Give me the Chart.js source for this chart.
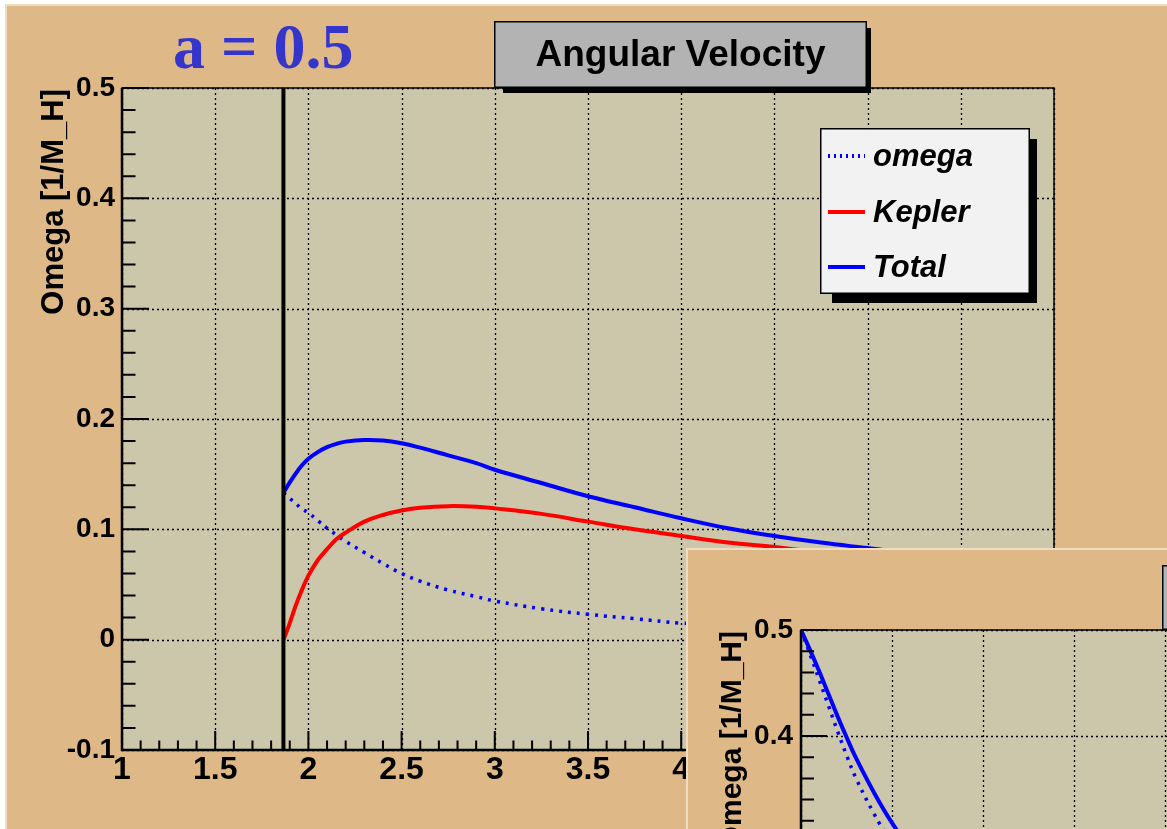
<!DOCTYPE html>
<html>
<head>
<meta charset="utf-8">
<script src="https://cdn.jsdelivr.net/npm/chart.js@4/dist/chart.umd.min.js"></script>
<style>
  html, body { margin: 0; padding: 0; background: #ffffff; width: 1167px; height: 829px; overflow: hidden; }
  body { position: relative; }
  #main  { position: absolute; left: 5px;   top: 4px; }
  #inset { position: absolute; left: 686px; top: 548px; }
</style>
</head>
<body>
<canvas id="main" width="1162" height="825"></canvas>
<canvas id="inset" width="1140" height="800"></canvas>
<script>
// ---- spin a = 0.5 : radius r [M_H] and angular velocities [1/M_H] ----
const radius = [1.866, 1.88, 1.9, 1.93, 1.96, 2.0, 2.05, 2.1, 2.15, 2.2, 2.3, 2.4, 2.5, 2.6, 2.75, 2.9,
                3.0, 3.25, 3.5, 3.75, 4.0, 4.25, 4.5, 4.75, 5.0, 5.25, 5.5, 5.75, 6.0];
const omegaDrag = [0.133, 0.131, 0.128, 0.124, 0.119, 0.115, 0.108, 0.101, 0.095, 0.089, 0.079, 0.069, 0.060, 0.053, 0.045, 0.039,
                   0.035, 0.028, 0.023, 0.019, 0.015, 0.013, 0.011, 0.0095, 0.008, 0.007, 0.006, 0.0053, 0.0047];
const omegaKepler = [0.000, 0.006, 0.015, 0.030, 0.043, 0.058, 0.072, 0.082, 0.091, 0.097, 0.107, 0.113, 0.117, 0.1195, 0.121, 0.1205,
                     0.119, 0.114, 0.107, 0.100, 0.094, 0.088, 0.084, 0.079, 0.075, 0.071, 0.068, 0.065, 0.062];
const omegaTotal = [0.133, 0.137, 0.1425, 0.150, 0.157, 0.164, 0.170, 0.1745, 0.1775, 0.1795, 0.181, 0.1805, 0.178, 0.174, 0.167, 0.160,
                    0.154, 0.142, 0.130, 0.120, 0.110, 0.101, 0.094, 0.088, 0.083, 0.078, 0.074, 0.070, 0.066];
// event horizon marker
const horizonR = [1.866, 1.866];
const horizonOmega = [-0.1, 0.5];

// ---- second panel ----
const insetRadius = [1.0, 1.05, 1.1, 1.15, 1.2, 1.25, 1.3, 1.4, 1.5, 1.6];
const insetOmega  = [0.500, 0.477, 0.453, 0.429, 0.405, 0.382, 0.361, 0.327, 0.298, 0.273];
const insetTotal  = [0.500, 0.481, 0.461, 0.440, 0.419, 0.399, 0.380, 0.347, 0.318, 0.294];

// ---- axes ----
const xMin = 1, xMax = 6, xStep = 0.5, xMinorStep = 0.1;
const yMin = -0.1, yMax = 0.5, yStep = 0.1, yMinorStep = 0.02;
const yAxisTitle = 'Omega [1/M_H]';
const plotTitle = 'Angular Velocity';
const spinLabel = 'a = 0.5';
const legendLabels = ['omega', 'Kepler', 'Total'];

const SANS = '"Liberation Sans", Arial, Helvetica, sans-serif';
const SERIF = '"Liberation Serif", "Times New Roman", serif';
const BLUE = '#0000ff', RED = '#ff0000';

const pts = (xs, ys) => xs.map((x, i) => ({ x, y: ys[i] }));

function boxWithShadow(ctx, b, fill) {
  ctx.fillStyle = '#000';
  ctx.fillRect(b.x + b.sx, b.y + b.sy, b.w + b.ex - b.sx, b.h + b.ey - b.sy);
  ctx.fillStyle = fill;
  ctx.fillRect(b.x, b.y, b.w, b.h);
  ctx.strokeStyle = '#000';
  ctx.lineWidth = 1.5;
  ctx.setLineDash([]);
  ctx.strokeRect(b.x + 0.75, b.y + 0.75, b.w - 1.5, b.h - 1.5);
}

// ROOT-like canvas: tan pad, shaded frame, dotted grid, inward ticks, boxed title and legend
const rootStyle = {
  id: 'rootStyle',
  beforeDraw(chart, args, o) {
    const { ctx, width, height, chartArea: a } = chart;
    const xs = chart.scales.x, ys = chart.scales.y;
    ctx.save();
    ctx.fillStyle = '#dfb887';
    ctx.fillRect(0, 0, width, height);
    ctx.fillStyle = '#f0dcc0';
    ctx.fillRect(0, 0, width, 2);
    ctx.fillRect(0, 0, 2, height);
    ctx.fillStyle = '#ccc6aa';
    ctx.fillRect(a.left, a.top, a.right - a.left, a.bottom - a.top);
    // dotted grid at the major ticks
    ctx.strokeStyle = '#000';
    ctx.lineWidth = 1.3;
    ctx.setLineDash([2, 3]);
    ctx.beginPath();
    for (let v = xMin; v <= xMax + 1e-9; v += xStep) {
      const p = Math.round(xs.getPixelForValue(v)) + 0.5;
      ctx.moveTo(p, a.top); ctx.lineTo(p, a.bottom);
    }
    for (let i = 0; i <= Math.round((yMax - yMin) / yStep); i++) {
      const p = Math.round(ys.getPixelForValue(yMin + i * yStep)) + 0.5;
      ctx.moveTo(a.left, p); ctx.lineTo(a.right, p);
    }
    ctx.stroke();
    ctx.restore();
  },
  afterDatasetsDraw(chart, args, o) {
    const { ctx, chartArea: a } = chart;
    const xs = chart.scales.x, ys = chart.scales.y;
    ctx.save();
    ctx.setLineDash([]);
    ctx.strokeStyle = '#000';
    // frame
    ctx.lineWidth = 1.5;
    ctx.strokeRect(a.left, a.top, a.right - a.left, a.bottom - a.top);
    ctx.lineWidth = 2.5;
    ctx.beginPath();
    ctx.moveTo(a.left, a.top); ctx.lineTo(a.left, a.bottom); ctx.lineTo(a.right, a.bottom);
    ctx.stroke();
    // inward ticks
    ctx.lineWidth = 2;
    ctx.beginPath();
    const nx = Math.round((xMax - xMin) / xMinorStep);
    for (let i = 0; i <= nx; i++) {
      const p = xs.getPixelForValue(xMin + i * xMinorStep);
      const len = (i % 5 === 0) ? o.xMajorTick : o.xMajorTick / 2;
      ctx.moveTo(p, a.bottom); ctx.lineTo(p, a.bottom - len);
    }
    const ny = Math.round((yMax - yMin) / yMinorStep);
    for (let i = 0; i <= ny; i++) {
      const p = ys.getPixelForValue(yMin + i * yMinorStep);
      const len = (i % 5 === 0) ? o.yMajorTick : o.yMajorTick / 2;
      ctx.moveTo(a.left, p); ctx.lineTo(a.left + len, p);
    }
    ctx.stroke();

    // y-axis title, rotated, aligned to the top of the axis
    ctx.save();
    ctx.translate(o.yTitle.x, o.yTitle.y);
    ctx.rotate(-Math.PI / 2);
    ctx.fillStyle = '#000';
    ctx.font = 'bold ' + o.yTitle.size + 'px ' + SANS;
    ctx.textAlign = 'right';
    ctx.textBaseline = 'alphabetic';
    ctx.fillText(yAxisTitle, 0, 0);
    ctx.restore();

    // title box
    const t = o.titleBox;
    boxWithShadow(ctx, t, '#b3b3b3');
    ctx.fillStyle = '#000';
    ctx.font = 'bold ' + t.size + 'px ' + SANS;
    ctx.textAlign = 'center';
    ctx.textBaseline = 'alphabetic';
    ctx.fillText(plotTitle, t.x + t.w / 2, t.base);

    // spin label
    if (o.spin) {
      ctx.fillStyle = '#3535cc';
      ctx.font = 'bold 64px ' + SERIF;
      ctx.textAlign = 'left';
      ctx.fillText(spinLabel, o.spin.x, o.spin.y);
    }

    // legend
    if (o.legend) {
      const L = o.legend;
      boxWithShadow(ctx, L, '#f2f2f2');
      const styles = [
        { color: BLUE, dash: [2, 4] },
        { color: RED, dash: [] },
        { color: BLUE, dash: [] }
      ];
      ctx.font = 'italic bold 31px ' + SANS;
      ctx.textAlign = 'left';
      legendLabels.forEach((lab, i) => {
        const yy = L.rows[i];
        ctx.strokeStyle = styles[i].color;
        ctx.setLineDash(styles[i].dash);
        ctx.lineWidth = 4;
        ctx.lineCap = 'butt';
        ctx.beginPath();
        ctx.moveTo(L.x + 8, yy); ctx.lineTo(L.x + 45, yy);
        ctx.stroke();
        ctx.setLineDash([]);
        ctx.fillStyle = '#000';
        ctx.fillText(lab, L.x + 53, yy + 10);
      });
    }
    ctx.restore();
  }
};

function tickFmt(v) {
  const r = Math.round(v * 100) / 100;
  return Math.abs(r) < 1e-9 ? '0' : String(r);
}

function makeChart(canvasId, datasets, area, deco, yTickPad) {
  const cv = document.getElementById(canvasId);
  return new Chart(cv, {
    type: 'line',
    data: { datasets },
    plugins: [rootStyle],
    options: {
      responsive: false,
      animation: false,
      devicePixelRatio: 1,
      layout: { padding: { left: 0, top: area.top, right: cv.width - area.right, bottom: 0 } },
      elements: { point: { radius: 0 }, line: { tension: 0.4 } },
      plugins: {
        legend: { display: false },
        title: { display: false },
        tooltip: { enabled: false },
        rootStyle: deco
      },
      scales: {
        x: {
          type: 'linear', min: xMin, max: xMax,
          afterFit: s => { s.height = cv.height - area.bottom; },
          grid: { display: false, drawTicks: false },
          border: { display: false },
          ticks: {
            stepSize: xStep, autoSkip: false, maxRotation: 0, padding: 1, color: '#000',
            font: { family: SANS, size: 32, weight: 'bold' }, callback: tickFmt
          }
        },
        y: {
          type: 'linear', min: yMin, max: yMax,
          afterFit: s => { s.width = area.left; },
          grid: { display: false, drawTicks: false },
          border: { display: false },
          ticks: {
            stepSize: yStep, autoSkip: false, padding: yTickPad, color: '#000',
            font: { family: SANS, size: 28, weight: 'bold' }, callback: tickFmt
          }
        }
      }
    }
  });
}

// main panel
makeChart('main', [
  { label: 'horizon', data: pts(horizonR, horizonOmega), borderColor: '#000', borderWidth: 4, tension: 0 },
  { label: 'Total',  data: pts(radius, omegaTotal),  borderColor: BLUE, borderWidth: 4 },
  { label: 'Kepler', data: pts(radius, omegaKepler), borderColor: RED,  borderWidth: 4 },
  { label: 'omega',  data: pts(radius, omegaDrag),   borderColor: BLUE, borderWidth: 3.5, borderDash: [3, 6], borderCapStyle: 'butt' }
], { left: 117, top: 84, right: 1049, bottom: 746 }, {
  xMajorTick: 19, yMajorTick: 27,
  yTitle: { x: 58, y: 85, size: 31 },
  titleBox: { x: 489, y: 17, w: 373, h: 67, sx: 9, sy: 7, ex: 4, ey: 5, size: 37, base: 62 },
  spin: { x: 168, y: 64 },
  legend: { x: 815, y: 124, w: 210, h: 166, sx: 12, sy: 11, ex: 7, ey: 9, rows: [152, 208, 263] }
}, 7);

// second panel
makeChart('inset', [
  { label: 'Total', data: pts(insetRadius, insetTotal), borderColor: BLUE, borderWidth: 4 },
  { label: 'omega', data: pts(insetRadius, insetOmega), borderColor: BLUE, borderWidth: 3.5, borderDash: [3, 6], borderCapStyle: 'butt' }
], { left: 115, top: 82, right: 1025, bottom: 718 }, {
  xMajorTick: 18, yMajorTick: 26,
  yTitle: { x: 55, y: 83, size: 30 },
  titleBox: { x: 476, y: 17, w: 365, h: 65, sx: 9, sy: 7, ex: 4, ey: 5, size: 36, base: 61 }
}, 8);
</script>
</body>
</html>
